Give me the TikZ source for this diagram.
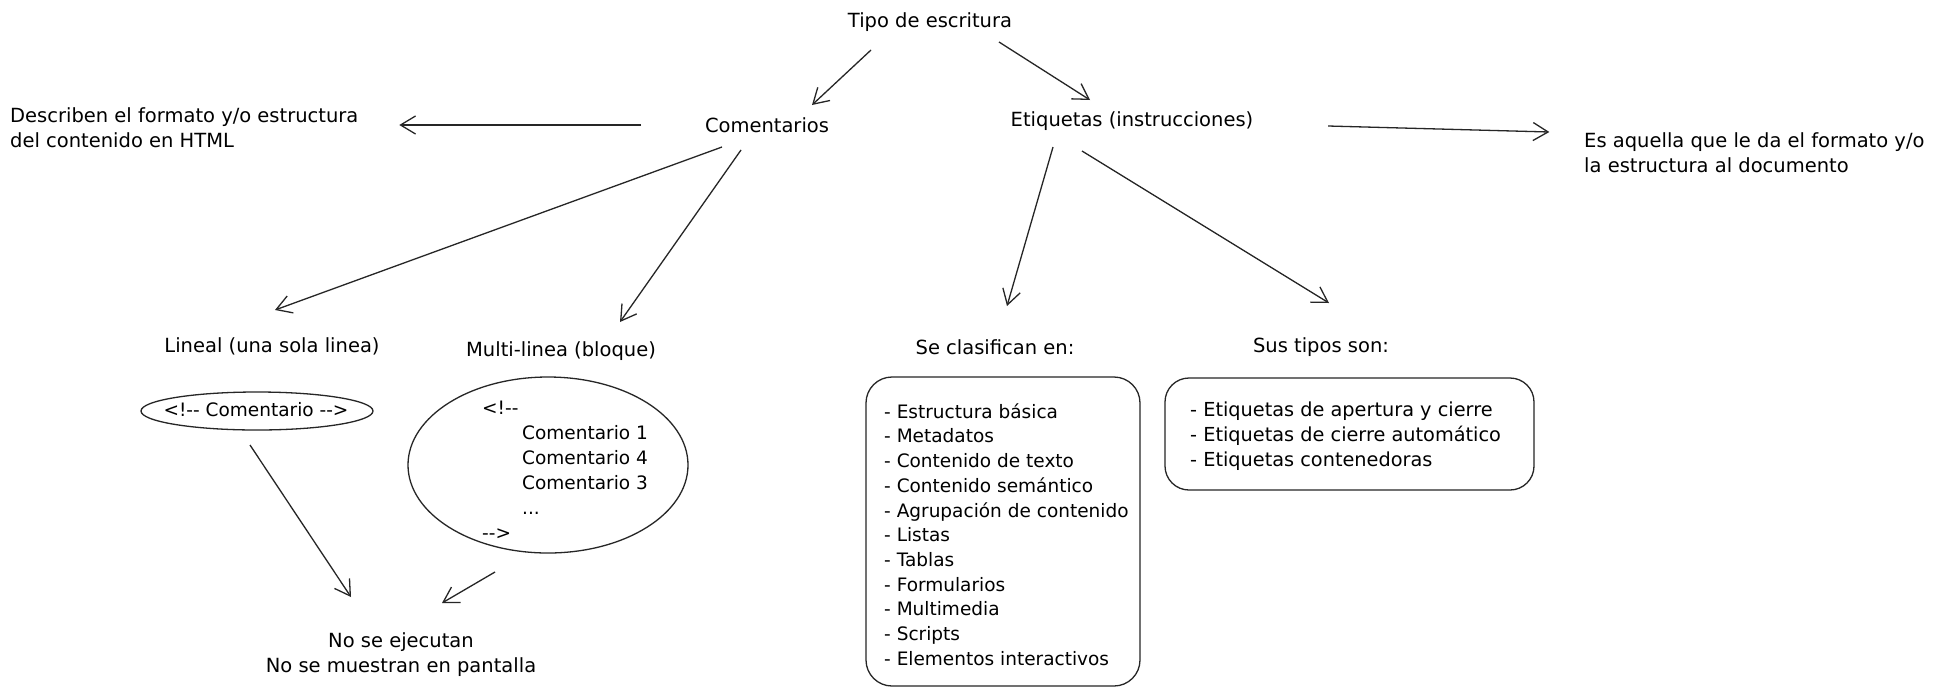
\documentclass[tikz,border=0pt]{standalone}
\usepackage{fontspec}
\setmainfont{DejaVu Sans}
\usetikzlibrary{arrows.meta,shapes.geometric}
\begin{document}
\begin{tikzpicture}[x=1pt,y=-1pt,
  lbl/.style={inner sep=0pt, font=\fontsize{19.5}{25}\selectfont},
  lst/.style={inner sep=0pt, align=left, font=\fontsize{18.5}{24.7}\selectfont},
  arr/.style={-{Straight Barb[length=15pt,width=18pt]}, line width=1.3pt, draw=black!85},
  oval/.style={ellipse, draw=black!85, line width=1.3pt, inner sep=0pt},
  rbox/.style={draw=black!85, line width=1.3pt, rounded corners=26pt, inner sep=0pt}]
\useasboundingbox (0,0) rectangle (1958,694);
\fill[white] (0,0) rectangle (1958,694);

% text nodes
\node[lbl] (tipo) at (930,22) {Tipo de escritura};
\node[lbl] (com) at (767,125) {Comentarios};
\node[lbl] (etq) at (1132,121) {Etiquetas (instrucciones)};
\node[lbl, anchor=west, align=left] (desc) at (10,128) {Describen el formato y/o estructura\\del contenido en HTML};
\node[lbl, anchor=west, align=left] (es) at (1584,153) {Es aquella que le da el formato y/o\\la estructura al documento};
\node[lbl] (lineal) at (272,346) {Lineal (una sola linea)};
\node[lbl] (multi) at (561,351) {Multi-linea (bloque)};
\node[lbl] (clas) at (995,347) {Se clasifican en:};
\node[lbl] (tipos) at (1321,347) {Sus tipos son:};
\node[lbl, align=center] (no) at (401,655) {No se ejecutan\\No se muestran en pantalla};

% ellipses
\node[oval, minimum width=232pt, minimum height=38pt] (ell1) at (257,411) {};
\node[lst] (c1) at (256,410) {<!-{}- Comentario -{}->};
\node[oval, minimum width=280pt, minimum height=176pt] (ell2) at (548,465) {};
\node[lst, anchor=west, font=\fontsize{18.5}{25}\selectfont] (c2) at (482,470) {<!-{}-\\\hspace*{40pt}Comentario 1\\\hspace*{40pt}Comentario 4\\\hspace*{40pt}Comentario 3\\\hspace*{40pt}...\\-{}->};

% boxes
\node[rbox, minimum width=274pt, minimum height=309pt] (box1) at (1003,531.5) {};
\node[lst, anchor=west] (l1) at (884,534.5) {- Estructura básica\\- Metadatos\\- Contenido de texto\\- Contenido semántico\\- Agrupación de contenido\\- Listas\\- Tablas\\- Formularios\\- Multimedia\\- Scripts\\- Elementos interactivos};
\node[rbox, minimum width=369pt, minimum height=112pt, rounded corners=24pt] (box2) at (1349.5,434) {};
\node[lst, anchor=west, font=\fontsize{19.3}{24.7}\selectfont] (l2) at (1190,436) {- Etiquetas de apertura y cierre\\- Etiquetas de cierre automático\\- Etiquetas contenedoras};

% connectors
\draw[arr] ([shift={(-59,28)}]tipo.center) -- ([shift={(45,-20)}]com.center);
\draw[arr] ([shift={(69,20)}]tipo.center) -- ([shift={(-42,-21)}]etq.center);
\draw[arr] ([shift={(-126,0)}]com.center) -- ([shift={(215,-3)}]desc.center);
\draw[arr] ([shift={(196,5)}]etq.center) -- ([shift={(-205,-21)}]es.center);
\draw[arr] ([shift={(-45,22)}]com.center) -- ([shift={(3,-36)}]lineal.center);
\draw[arr] ([shift={(-26,25)}]com.center) -- ([shift={(59,-29)}]multi.center);
\draw[arr] ([shift={(-79,26)}]etq.center) -- ([shift={(12,-41)}]clas.center);
\draw[arr] ([shift={(-50,30)}]etq.center) -- ([shift={(8,-44)}]tipos.center);
\draw[arr] ([shift={(-7,34)}]ell1.center) -- ([shift={(-50,-58)}]no.center);
\draw[arr] ([shift={(-53,107)}]ell2.center) -- ([shift={(41,-52)}]no.center);
\end{tikzpicture}
\end{document}
